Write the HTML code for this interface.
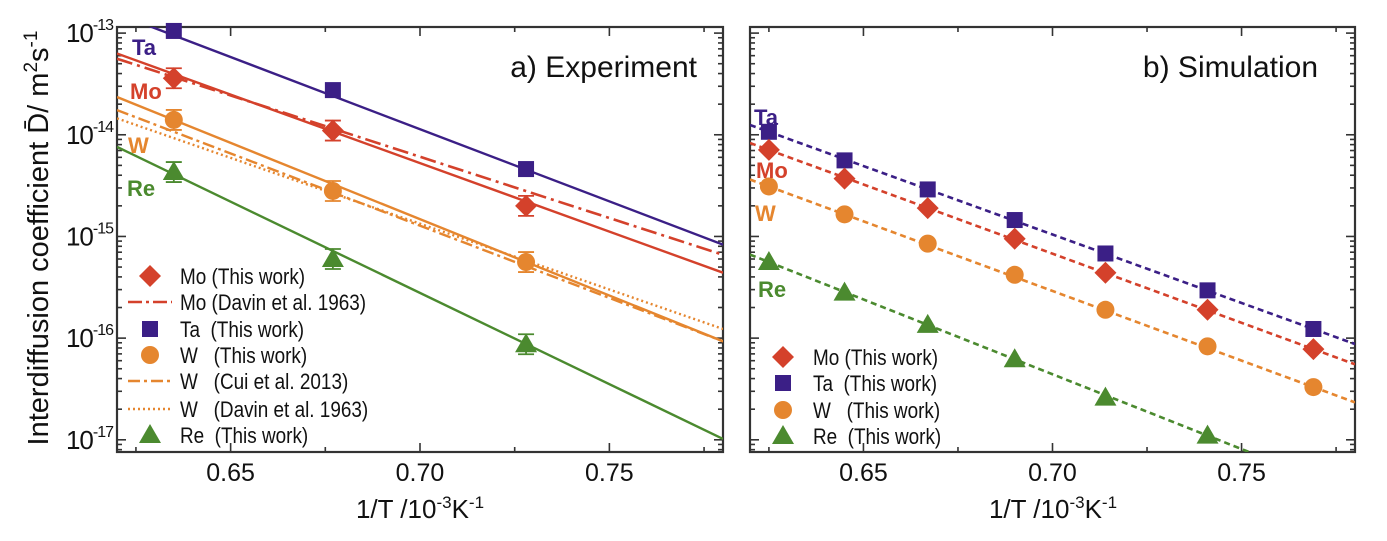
<!DOCTYPE html>
<html><head><meta charset="utf-8"><style>
body{margin:0;background:#fff}
svg{display:block;font-family:"Liberation Sans",sans-serif}
.pre{white-space:pre}
</style></head><body>
<svg id="chart" width="1387" height="541" viewBox="0 0 1387 541" xmlns="http://www.w3.org/2000/svg">
<text transform="translate(48,238) rotate(-90)" text-anchor="middle" font-size="29" fill="#111">Interdiffusion coefficient D̄/ m<tspan dy="-11" font-size="19">2</tspan><tspan dy="11">s</tspan><tspan dy="-11" font-size="19">-1</tspan></text>
<text x="420" y="518" text-anchor="middle" font-size="26" fill="#111">1/T /10<tspan dy="-10" font-size="17">-3</tspan><tspan dy="10">K</tspan><tspan dy="-10" font-size="17">-1</tspan></text>
<text x="1053" y="518" text-anchor="middle" font-size="26" fill="#111">1/T /10<tspan dy="-10" font-size="17">-3</tspan><tspan dy="10">K</tspan><tspan dy="-10" font-size="17">-1</tspan></text>
<text x="697" y="77" text-anchor="end" font-size="30" fill="#111">a) Experiment</text>
<text x="1318" y="77" text-anchor="end" font-size="30" fill="#111">b) Simulation</text>
<g id="pa"></g><g id="pb"></g>
</svg>
<script>
// ---- data ----
const xTicks = [0.65, 0.70, 0.75];
const xTickLabels = ["0.65", "0.70", "0.75"];
const yDecades = [-13, -14, -15, -16, -17];
// Panel a: experiment points
const expX = [0.635, 0.677, 0.728];
const expTa = [1.05e-13, 2.75e-14, 4.6e-15];
const expMo = [3.6e-14, 1.1e-14, 2.0e-15];
const expW = [1.4e-14, 2.8e-15, 5.6e-16];
const expRe = [4.3e-15, 6.0e-16, 8.7e-17];
// Panel a: fitted lines D at x=0.62 and x=0.78
const lineX = [0.62, 0.78];
const fitTa = [1.55e-13, 8.3e-16];
const fitMo = [6.3e-14, 4.4e-16];
const davinMo = [5.6e-14, 6.6e-16];
const fitW = [2.35e-14, 9.3e-17];
const cuiW = [1.75e-14, 9.3e-17];
const davinW = [1.45e-14, 1.23e-16];
const fitRe = [7.6e-15, 1.02e-17];
// Panel b: simulation
const simX = [0.625, 0.645, 0.667, 0.690, 0.714, 0.741, 0.769];
const simTa = [1.07e-14, 5.6e-15, 2.9e-15, 1.45e-15, 6.8e-16, 2.95e-16, 1.23e-16];
const simMo = [7.1e-15, 3.7e-15, 1.9e-15, 9.5e-16, 4.4e-16, 1.9e-16, 7.8e-17];
const simW = [3.1e-15, 1.65e-15, 8.5e-16, 4.2e-16, 1.9e-16, 8.3e-17, 3.3e-17];
const simRe = [5.6e-16, 2.8e-16, 1.35e-16, 6.2e-17, 2.6e-17, 1.1e-17];

const C = {Ta:"#3b1f86", Mo:"#d4412b", W:"#e5862f", Re:"#4b8a2f"};
const NS = "http://www.w3.org/2000/svg";
function mk(parent, tag, attrs){const e=document.createElementNS(NS,tag);for(const k in attrs)e.setAttribute(k,attrs[k]);parent.appendChild(e);return e;}

function panel(g, x0, x1, name){
  const top=27, bot=452, d0=-12.94, d1=-17.12, xmin=0.62, xmax=0.78;
  const sx = v => x0 + (v - xmin) / (xmax - xmin) * (x1 - x0);
  const sy = v => top + (Math.log10(v) - d0) / (d1 - d0) * (bot - top);
  const cp = mk(g,"clipPath",{id:"clip-"+name});
  mk(cp,"rect",{x:x0,y:top,width:x1-x0,height:bot-top});
  const frame = mk(g,"rect",{x:x0,y:top,width:x1-x0,height:bot-top,fill:"none",stroke:"#333","stroke-width":2.2});
  
  
  const ticks = mk(g,"g",{stroke:"#333","stroke-width":1.6});
  
  
  xTicks.forEach((t,i)=>{
    const X=sx(t);
    mk(ticks,"line",{x1:X,x2:X,y1:bot,y2:bot-9});
    mk(ticks,"line",{x1:X,x2:X,y1:top,y2:top+9});
    const m=X+(sx(0.675)-sx(0.70));
    mk(ticks,"line",{x1:m,x2:m,y1:bot,y2:bot-5});
    mk(ticks,"line",{x1:m,x2:m,y1:top,y2:top+5});
    const lbl = mk(g,"text",{x:X,y:481,"text-anchor":"middle","font-size":25,fill:"#111"});
    lbl.textContent = xTickLabels[i];
    
    
  });
  { const m=sx(0.775); mk(ticks,"line",{x1:m,x2:m,y1:bot,y2:bot-5}); mk(ticks,"line",{x1:m,x2:m,y1:top,y2:top+5}); }
  yDecades.forEach(dd=>{
    const Y=sy(Math.pow(10,dd));
    mk(ticks,"line",{x1:x0,x2:x0+9,y1:Y,y2:Y});
    mk(ticks,"line",{x1:x1,x2:x1-9,y1:Y,y2:Y});
    for(let k=2;k<=9;k++){
      const yy=sy(k*Math.pow(10,dd-1));
      if(yy>top && yy<bot){
        mk(ticks,"line",{x1:x0,x2:x0+5,y1:yy,y2:yy});
        mk(ticks,"line",{x1:x1,x2:x1-5,y1:yy,y2:yy});
      }
    }
    if(name==="panel-a"){
      const t=mk(g,"text",{x:x0-4,y:Y+9,"text-anchor":"end","font-size":26,fill:"#111","letter-spacing":"-1"});
      t.innerHTML='10<tspan dy="-12" font-size="16">'+dd+'</tspan>';
      
      
    }
  });
  return {sx, sy, clip:"url(#clip-"+name+")"};
}

function line(g, ax, xs, ys, color, dash, w, nm){
  const p = mk(g,"line",{x1:ax.sx(xs[0]),y1:ax.sy(ys[0]),x2:ax.sx(xs[xs.length-1]),y2:ax.sy(ys[ys.length-1]),stroke:color,"stroke-width":w,"clip-path":ax.clip});
  if(dash) p.setAttribute("stroke-dasharray",dash);
  
  
}
function marker(g, type, X, Y, color, nm){
  let e;
  if(type==="sq") e=mk(g,"rect",{x:X-8,y:Y-8,width:16,height:16,fill:color});
  else if(type==="di") e=mk(g,"polygon",{points:`${X},${Y-11} ${X+11},${Y} ${X},${Y+11} ${X-11},${Y}`,fill:color});
  else if(type==="ci") e=mk(g,"circle",{cx:X,cy:Y,r:9,fill:color});
  else e=mk(g,"polygon",{points:`${X},${Y-11} ${X+11},${Y+8} ${X-11},${Y+8}`,fill:color});
  
  
}
function points(g, ax, xs, ys, type, color, nm, err){
  ys.forEach((v,i)=>{
    const X=ax.sx(xs[i]), Y=ax.sy(v);
    if(err){ const e=mk(g,"path",{d:`M${X},${Y-10}V${Y+10}M${X-8},${Y-10}H${X+8}M${X-8},${Y+10}H${X+8}`,stroke:color,"stroke-width":1.8,fill:"none"});
        }
    marker(g,type,X,Y,color,nm);
  });
}
function fitLine(g, ax, xs, ys, color, nm){
  const n=xs.length, a=Math.log10(ys[0]), b=Math.log10(ys[n-1]);
  const s=(b-a)/(xs[n-1]-xs[0]);
  const l0=a+s*(0.62-xs[0]), l1=a+s*(0.78-xs[0]);
  line(g, ax, [0.62,0.78], [Math.pow(10,l0),Math.pow(10,l1)], color, "6,4", 2.6, nm);
}
function label(g,x,y,txt,color,nm){
  const t=mk(g,"text",{x:x,y:y,"font-size":22,"font-weight":"bold",fill:color});
  t.textContent=txt;  
}
function legend(g,x,ys,items){
  items.forEach((it,i)=>{
    const y=ys[i];
    if(it.m) marker(g,it.m,x,y,it.c,'legend-marker');
    else { const l=mk(g,"line",{x1:x-22,x2:x+22,y1:y,y2:y,stroke:it.c,"stroke-width":2.6,"stroke-dasharray":it.d});
        }
    const t=mk(g,"text",{x:x+30,y:y+8,"font-size":22,fill:"#111","class":"pre"});
    t.textContent=it.t;  
    const L=t.getComputedTextLength();
    if(L>0){ t.setAttribute("textLength", (L*0.86).toFixed(1)); t.setAttribute("lengthAdjust","spacingAndGlyphs"); }
  });
}

const ga=document.getElementById("pa");
const A=panel(ga,117,723,"panel-a");
line(ga,A,lineX,fitTa,C.Ta,null,2.4,"ta-fit-line");
line(ga,A,lineX,davinMo,C.Mo,"16,5,3,5",2.6,"mo-davin-line");
line(ga,A,lineX,fitMo,C.Mo,null,2.4,"mo-fit-line");
line(ga,A,lineX,davinW,C.W,"2,3",2.4,"w-davin-line");
line(ga,A,lineX,cuiW,C.W,"12,4,3,4",2.4,"w-cui-line");
line(ga,A,lineX,fitW,C.W,null,2.4,"w-fit-line");
line(ga,A,lineX,fitRe,C.Re,null,2.4,"re-fit-line");
points(ga,A,expX,expTa,"sq",C.Ta,"ta-point");
points(ga,A,expX,expMo,"di",C.Mo,"mo-point",true);
points(ga,A,expX,expW,"ci",C.W,"w-point",true);
points(ga,A,expX,expRe,"tr",C.Re,"re-point",true);
label(ga,132,55,"Ta",C.Ta,"ta-label");
label(ga,130,99,"Mo",C.Mo,"mo-label");
label(ga,128,153,"W",C.W,"w-label");
label(ga,127,196,"Re",C.Re,"re-label");
legend(ga,150,[276,302,329,355,381,409,435],[
 {m:"di",c:C.Mo,t:"Mo (This work)"},
 {c:C.Mo,d:"14,4,3,4",t:"Mo (Davin et al. 1963)"},
 {m:"sq",c:C.Ta,t:"Ta  (This work)"},
 {m:"ci",c:C.W,t:"W   (This work)"},
 {c:C.W,d:"12,4,3,4",t:"W   (Cui et al. 2013)"},
 {c:C.W,d:"2,3",t:"W   (Davin et al. 1963)"},
 {m:"tr",c:C.Re,t:"Re  (This work)"}]);

const gb=document.getElementById("pb");
const B=panel(gb,750,1355,"panel-b");
fitLine(gb,B,simX,simTa,C.Ta,"ta-sim-line");
fitLine(gb,B,simX,simMo,C.Mo,"mo-sim-line");
fitLine(gb,B,simX,simW,C.W,"w-sim-line");
fitLine(gb,B,simX.slice(0,simRe.length),simRe,C.Re,"re-sim-line");
points(gb,B,simX,simTa,"sq",C.Ta,"ta-sim-point");
points(gb,B,simX,simMo,"di",C.Mo,"mo-sim-point");
points(gb,B,simX,simW,"ci",C.W,"w-sim-point");
points(gb,B,simX,simRe,"tr",C.Re,"re-sim-point");
label(gb,754,125,"Ta",C.Ta,"ta-sim-label");
label(gb,756,178,"Mo",C.Mo,"mo-sim-label");
label(gb,755,221,"W",C.W,"w-sim-label");
label(gb,758,297,"Re",C.Re,"re-sim-label");
legend(gb,783,[357,383,410,436],[
 {m:"di",c:C.Mo,t:"Mo (This work)"},
 {m:"sq",c:C.Ta,t:"Ta  (This work)"},
 {m:"ci",c:C.W,t:"W   (This work)"},
 {m:"tr",c:C.Re,t:"Re  (This work)"}]);
</script>
</body></html>
